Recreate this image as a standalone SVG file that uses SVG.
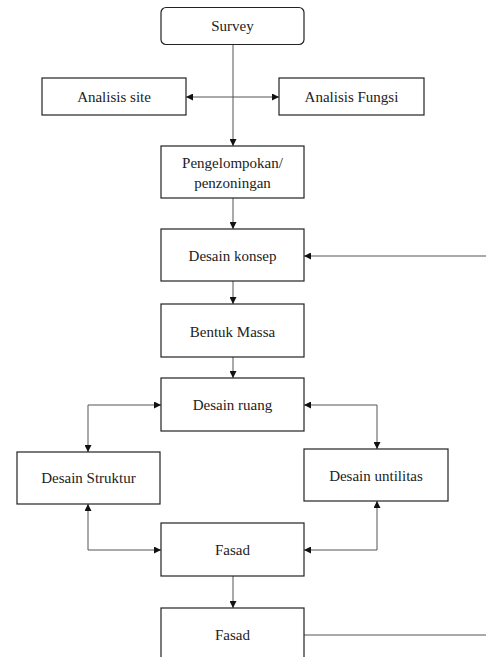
<svg xmlns="http://www.w3.org/2000/svg" width="486" height="657" viewBox="0 0 486 657">
<style>
.box{fill:#fff;stroke:#222;stroke-width:1.2}
.t{font-family:'Liberation Serif','Times New Roman','DejaVu Serif',serif;font-size:15px;fill:#222;text-anchor:middle}
.c{fill:none;stroke:#555;stroke-width:1}
</style>
<defs>
<marker id="ah" viewBox="0 0 10 10" refX="10" refY="5" markerWidth="7" markerHeight="7" markerUnits="userSpaceOnUse" orient="auto-start-reverse">
<path d="M0,0 L10,5 L0,10 z" fill="#111"/>
</marker>
</defs>
<rect width="486" height="657" fill="#fff"/>
<g id="connectors">
<path class="c" d="M233,44 V146" marker-end="url(#ah)"/>
<path class="c" d="M186,97 H279" marker-start="url(#ah)" marker-end="url(#ah)"/>
<path class="c" d="M233,198 V229" marker-end="url(#ah)"/>
<path class="c" d="M486,256 H304" marker-end="url(#ah)"/>
<path class="c" d="M233,281 V304" marker-end="url(#ah)"/>
<path class="c" d="M233,357 V378" marker-end="url(#ah)"/>
<path class="c" d="M161,405 H88 V452" marker-start="url(#ah)" marker-end="url(#ah)"/>
<path class="c" d="M304,405 H377 V449" marker-start="url(#ah)" marker-end="url(#ah)"/>
<path class="c" d="M88,504 V550 H161" marker-start="url(#ah)" marker-end="url(#ah)"/>
<path class="c" d="M377,501 V550 H304" marker-start="url(#ah)" marker-end="url(#ah)"/>
<path class="c" d="M233,576 V608" marker-end="url(#ah)"/>
<path class="c" d="M304,635 H486"/>
</g>
<g id="survey"><rect class="box" x="161" y="7.5" width="143" height="37" rx="5"/><text class="t" font-family="Liberation Serif, serif" x="232.5" y="31">Survey</text></g>
<g id="analisis-site"><rect class="box" x="42" y="78" width="144" height="37"/><text class="t" x="114" y="102">Analisis site</text></g>
<g id="analisis-fungsi"><rect class="box" x="279" y="78" width="145" height="37"/><text class="t" x="351.5" y="102">Analisis Fungsi</text></g>
<g id="pengelompokan"><rect class="box" x="161" y="146" width="143" height="52"/><text class="t" x="232.5" y="168">Pengelompokan/</text><text class="t" x="232.5" y="188">penzoningan</text></g>
<g id="desain-konsep"><rect class="box" x="161" y="229" width="143" height="52"/><text class="t" x="232.5" y="261">Desain konsep</text></g>
<g id="bentuk-massa"><rect class="box" x="161" y="304" width="143" height="53"/><text class="t" x="232.5" y="337">Bentuk Massa</text></g>
<g id="desain-ruang"><rect class="box" x="161" y="378" width="143" height="53"/><text class="t" x="232.5" y="410">Desain ruang</text></g>
<g id="desain-struktur"><rect class="box" x="17" y="452" width="143" height="52"/><text class="t" x="88.5" y="483">Desain Struktur</text></g>
<g id="desain-utilitas"><rect class="box" x="304" y="449" width="144" height="52"/><text class="t" x="376" y="481">Desain untilitas</text></g>
<g id="fasad-1"><rect class="box" x="161" y="523" width="143" height="53"/><text class="t" x="232.5" y="555">Fasad</text></g>
<g id="fasad-2"><rect class="box" x="161" y="608" width="143" height="60"/><text class="t" x="232.5" y="640">Fasad</text></g>
</svg>
